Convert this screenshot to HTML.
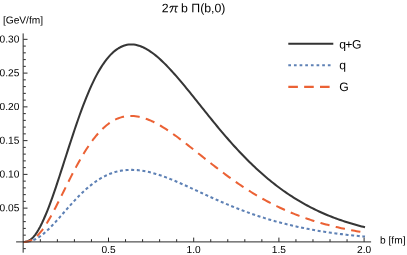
<!DOCTYPE html>
<html><head><meta charset="utf-8"><style>
html,body{margin:0;padding:0;background:#fff;overflow:hidden}
svg{display:block}
.t{font-family:"Liberation Sans",sans-serif;will-change:transform;filter:grayscale(1)}
</style></head><body>
<svg width="407" height="255" viewBox="0 0 407 255">
<rect width="407" height="255" fill="#fff"/>
<path d="M23.30,241.90 L25.00,241.84 L26.70,241.54 L28.40,240.93 L30.10,239.97 L31.80,238.64 L33.50,236.93 L35.20,234.85 L36.90,232.40 L38.60,229.59 L40.30,226.46 L42.01,223.01 L43.74,219.27 L45.48,215.27 L47.22,211.03 L48.97,206.57 L50.72,201.92 L52.46,197.11 L54.19,192.16 L55.91,187.09 L57.62,181.93 L59.33,176.70 L61.04,171.41 L62.76,166.10 L64.46,160.78 L66.17,155.46 L67.88,150.16 L69.58,144.91 L71.28,139.71 L72.97,134.58 L74.66,129.54 L76.33,124.58 L78.01,119.73 L79.68,114.99 L81.36,110.38 L83.03,105.89 L84.71,101.54 L86.38,97.34 L88.06,93.28 L89.73,89.38 L91.40,85.64 L93.07,82.06 L94.74,78.64 L96.42,75.38 L98.11,72.30 L99.80,69.38 L101.50,66.63 L103.20,64.05 L104.90,61.64 L106.60,59.40 L108.30,57.32 L110.00,55.41 L111.70,53.66 L113.40,52.07 L115.10,50.65 L116.80,49.37 L118.50,48.26 L120.20,47.29 L121.90,46.47 L123.60,45.79 L125.30,45.25 L127.00,44.85 L128.70,44.59 L130.40,44.45 L132.10,44.44 L133.80,44.56 L135.50,44.81 L137.20,45.17 L138.90,45.65 L140.60,46.25 L142.30,46.94 L144.00,47.73 L145.70,48.62 L147.40,49.60 L149.10,50.65 L150.80,51.79 L152.50,53.00 L154.20,54.29 L155.90,55.65 L157.60,57.08 L159.30,58.57 L161.00,60.12 L162.70,61.72 L164.40,63.38 L166.10,65.09 L167.80,66.84 L169.50,68.63 L171.20,70.46 L172.90,72.33 L174.60,74.23 L176.30,76.17 L178.00,78.13 L179.70,80.12 L181.40,82.13 L183.10,84.16 L184.80,86.22 L186.50,88.29 L188.20,90.37 L189.90,92.47 L191.60,94.58 L193.30,96.69 L195.00,98.81 L196.70,100.94 L198.40,103.07 L200.10,105.20 L201.80,107.33 L203.50,109.46 L205.20,111.59 L206.90,113.71 L208.60,115.82 L210.30,117.92 L212.00,120.01 L213.70,122.10 L215.40,124.17 L217.10,126.23 L218.80,128.28 L220.50,130.31 L222.20,132.33 L223.90,134.33 L225.60,136.31 L227.30,138.28 L229.00,140.22 L230.70,142.15 L232.40,144.06 L234.10,145.95 L235.80,147.81 L237.50,149.66 L239.20,151.48 L240.90,153.28 L242.60,155.06 L244.30,156.81 L246.00,158.54 L247.70,160.25 L249.40,161.93 L251.10,163.60 L252.80,165.23 L254.50,166.85 L256.20,168.44 L257.90,170.00 L259.60,171.55 L261.30,173.06 L263.00,174.56 L264.70,176.03 L266.40,177.48 L268.10,178.91 L269.80,180.31 L271.50,181.69 L273.20,183.05 L274.90,184.38 L276.60,185.69 L278.30,186.98 L280.00,188.24 L281.70,189.49 L283.40,190.71 L285.10,191.90 L286.80,193.08 L288.50,194.23 L290.20,195.36 L291.90,196.47 L293.60,197.56 L295.30,198.62 L297.00,199.67 L298.70,200.69 L300.40,201.70 L302.10,202.68 L303.80,203.65 L305.50,204.59 L307.20,205.51 L308.90,206.42 L310.60,207.31 L312.30,208.17 L314.00,209.02 L315.70,209.85 L317.40,210.67 L319.10,211.46 L320.80,212.24 L322.50,213.00 L324.20,213.74 L325.90,214.47 L327.60,215.18 L329.30,215.88 L331.00,216.56 L332.70,217.22 L334.40,217.87 L336.10,218.50 L337.80,219.12 L339.50,219.73 L341.20,220.32 L342.90,220.89 L344.60,221.46 L346.30,222.01 L348.00,222.55 L349.70,223.07 L351.40,223.58 L353.10,224.08 L354.80,224.57 L356.50,225.05 L358.20,225.51 L359.90,225.96 L361.60,226.40 L363.30,226.83 L365.00,227.25" stroke="#363636" stroke-width="2.05" fill="none" stroke-linejoin="round"/>
<path d="M23.30,241.90 L25.00,241.88 L26.70,241.76 L28.40,241.54 L30.10,241.18 L31.80,240.69 L33.50,240.06 L35.20,239.30 L36.90,238.40 L38.60,237.37 L40.30,236.22 L42.00,234.96 L43.70,233.60 L45.40,232.14 L47.10,230.59 L48.80,228.96 L50.50,227.27 L52.20,225.51 L53.90,223.70 L55.60,221.86 L57.30,219.97 L59.00,218.06 L60.70,216.14 L62.40,214.20 L64.10,212.26 L65.80,210.32 L67.50,208.39 L69.20,206.47 L70.90,204.58 L72.60,202.70 L74.30,200.86 L76.00,199.05 L77.70,197.28 L79.40,195.55 L81.10,193.87 L82.80,192.23 L84.50,190.65 L86.20,189.11 L87.90,187.63 L89.60,186.21 L91.30,184.84 L93.00,183.53 L94.70,182.29 L96.40,181.10 L98.10,179.97 L99.80,178.91 L101.50,177.91 L103.20,176.96 L104.90,176.09 L106.60,175.27 L108.30,174.51 L110.00,173.82 L111.70,173.18 L113.40,172.60 L115.10,172.08 L116.80,171.62 L118.50,171.22 L120.20,170.87 L121.90,170.57 L123.60,170.33 L125.30,170.13 L127.00,169.99 L128.70,169.90 L130.40,169.86 L132.10,169.86 L133.80,169.90 L135.50,169.99 L137.20,170.12 L138.90,170.29 L140.60,170.50 L142.30,170.75 L144.00,171.04 L145.70,171.35 L147.40,171.71 L149.10,172.09 L150.80,172.50 L152.50,172.94 L154.20,173.42 L155.90,173.91 L157.60,174.44 L159.30,174.99 L161.00,175.56 L162.70,176.15 L164.40,176.76 L166.10,177.39 L167.80,178.04 L169.50,178.70 L171.20,179.38 L172.90,180.08 L174.60,180.78 L176.30,181.50 L178.00,182.23 L179.70,182.97 L181.40,183.72 L183.10,184.47 L184.80,185.24 L186.50,186.00 L188.20,186.78 L189.90,187.56 L191.60,188.34 L193.30,189.12 L195.00,189.90 L196.70,190.69 L198.40,191.48 L200.10,192.26 L201.80,193.05 L203.50,193.83 L205.20,194.61 L206.90,195.39 L208.60,196.17 L210.30,196.94 L212.00,197.71 L213.70,198.47 L215.40,199.23 L217.10,199.98 L218.80,200.73 L220.50,201.47 L222.20,202.21 L223.90,202.94 L225.60,203.66 L227.30,204.38 L229.00,205.09 L230.70,205.79 L232.40,206.49 L234.10,207.17 L235.80,207.85 L237.50,208.53 L239.20,209.19 L240.90,209.85 L242.60,210.49 L244.30,211.13 L246.00,211.76 L247.70,212.39 L249.40,213.00 L251.10,213.60 L252.80,214.20 L254.50,214.79 L256.20,215.37 L257.90,215.93 L259.60,216.50 L261.30,217.05 L263.00,217.59 L264.70,218.12 L266.40,218.65 L268.10,219.17 L269.80,219.68 L271.50,220.17 L273.20,220.67 L274.90,221.15 L276.60,221.62 L278.30,222.09 L280.00,222.54 L281.70,222.99 L283.40,223.43 L285.10,223.86 L286.80,224.29 L288.50,224.70 L290.20,225.11 L291.90,225.51 L293.60,225.91 L295.30,226.29 L297.00,226.67 L298.70,227.04 L300.40,227.40 L302.10,227.76 L303.80,228.10 L305.50,228.45 L307.20,228.78 L308.90,229.11 L310.60,229.43 L312.30,229.74 L314.00,230.04 L315.70,230.34 L317.40,230.64 L319.10,230.92 L320.80,231.20 L322.50,231.48 L324.20,231.75 L325.90,232.01 L327.60,232.26 L329.30,232.51 L331.00,232.76 L332.70,233.00 L334.40,233.23 L336.10,233.46 L337.80,233.68 L339.50,233.90 L341.20,234.11 L342.90,234.32 L344.60,234.52 L346.30,234.72 L348.00,234.91 L349.70,235.10 L351.40,235.28 L353.10,235.46 L354.80,235.64 L356.50,235.81 L358.20,235.97 L359.90,236.14 L361.60,236.29 L363.30,236.45 L365.00,236.60" stroke="#5E81B5" stroke-width="2.05" fill="none" stroke-dasharray="3.0 2.633" stroke-dashoffset="0.95" stroke-linejoin="round"/>
<path d="M23.30,241.90 L25.00,241.87 L26.70,241.70 L28.40,241.35 L30.10,240.79 L31.80,239.99 L33.50,238.95 L35.20,237.67 L36.90,236.16 L38.60,234.41 L40.30,232.45 L42.00,230.28 L43.70,227.93 L45.40,225.39 L47.10,222.70 L48.80,219.86 L50.50,216.90 L52.20,213.82 L53.90,210.65 L55.60,207.40 L57.30,204.09 L59.00,200.72 L60.70,197.32 L62.40,193.90 L64.10,190.47 L65.80,187.04 L67.50,183.63 L69.20,180.24 L70.90,176.89 L72.60,173.58 L74.30,170.32 L76.00,167.13 L77.70,164.00 L79.40,160.94 L81.10,157.97 L82.80,155.08 L84.50,152.28 L86.20,149.57 L87.90,146.96 L89.60,144.45 L91.30,142.04 L93.00,139.74 L94.70,137.55 L96.40,135.46 L98.10,133.49 L99.80,131.62 L101.50,129.87 L103.20,128.22 L104.90,126.68 L106.60,125.26 L108.30,123.94 L110.00,122.72 L111.70,121.62 L113.40,120.62 L115.10,119.72 L116.80,118.92 L118.50,118.22 L120.20,117.62 L121.90,117.11 L123.60,116.70 L125.30,116.38 L127.00,116.14 L128.70,115.99 L130.40,115.93 L132.10,115.94 L133.80,116.03 L135.50,116.20 L137.20,116.44 L138.90,116.75 L140.60,117.13 L142.30,117.57 L144.00,118.08 L145.70,118.65 L147.40,119.27 L149.10,119.95 L150.80,120.67 L152.50,121.45 L154.20,122.28 L155.90,123.15 L157.60,124.06 L159.30,125.02 L161.00,126.01 L162.70,127.04 L164.40,128.10 L166.10,129.19 L167.80,130.31 L169.50,131.46 L171.20,132.63 L172.90,133.83 L174.60,135.05 L176.30,136.28 L178.00,137.54 L179.70,138.81 L181.40,140.10 L183.10,141.40 L184.80,142.71 L186.50,144.03 L188.20,145.36 L189.90,146.70 L191.60,148.04 L193.30,149.39 L195.00,150.74 L196.70,152.09 L198.40,153.44 L200.10,154.80 L201.80,156.15 L203.50,157.50 L205.20,158.85 L206.90,160.20 L208.60,161.54 L210.30,162.87 L212.00,164.20 L213.70,165.52 L215.40,166.84 L217.10,168.15 L218.80,169.45 L220.50,170.74 L222.20,172.03 L223.90,173.30 L225.60,174.56 L227.30,175.82 L229.00,177.06 L230.70,178.29 L232.40,179.50 L234.10,180.71 L235.80,181.90 L237.50,183.08 L239.20,184.25 L240.90,185.40 L242.60,186.54 L244.30,187.66 L246.00,188.77 L247.70,189.86 L249.40,190.94 L251.10,192.00 L252.80,193.05 L254.50,194.08 L256.20,195.10 L257.90,196.10 L259.60,197.09 L261.30,198.06 L263.00,199.01 L264.70,199.95 L266.40,200.88 L268.10,201.78 L269.80,202.68 L271.50,203.56 L273.20,204.42 L274.90,205.27 L276.60,206.11 L278.30,206.93 L280.00,207.73 L281.70,208.52 L283.40,209.30 L285.10,210.06 L286.80,210.81 L288.50,211.54 L290.20,212.26 L291.90,212.97 L293.60,213.66 L295.30,214.34 L297.00,215.00 L298.70,215.66 L300.40,216.29 L302.10,216.92 L303.80,217.53 L305.50,218.13 L307.20,218.72 L308.90,219.29 L310.60,219.85 L312.30,220.41 L314.00,220.94 L315.70,221.47 L317.40,221.99 L319.10,222.49 L320.80,222.99 L322.50,223.47 L324.20,223.94 L325.90,224.40 L327.60,224.86 L329.30,225.30 L331.00,225.73 L332.70,226.15 L334.40,226.57 L336.10,226.97 L337.80,227.36 L339.50,227.75 L341.20,228.13 L342.90,228.49 L344.60,228.85 L346.30,229.20 L348.00,229.55 L349.70,229.88 L351.40,230.21 L353.10,230.52 L354.80,230.84 L356.50,231.14 L358.20,231.44 L359.90,231.73 L361.60,232.01 L363.30,232.28 L365.00,232.55" stroke="#EB6235" stroke-width="2.05" fill="none" stroke-dasharray="9.4 6.36" stroke-dashoffset="0.4" stroke-linejoin="round"/>
<g stroke="#2a2a2a" stroke-width="1" fill="none" shape-rendering="auto">
<path d="M16.1,241.90 H371.1"/>
<path d="M23.15,33.4 V252.7"/>
<path d="M40.34,241.90 v-2.6999999999999997"/>
<path d="M57.38,241.90 v-2.6999999999999997"/>
<path d="M74.42,241.90 v-2.6999999999999997"/>
<path d="M91.46,241.90 v-2.6999999999999997"/>
<path d="M108.50,241.90 v-4.3"/>
<path d="M125.54,241.90 v-2.6999999999999997"/>
<path d="M142.58,241.90 v-2.6999999999999997"/>
<path d="M159.62,241.90 v-2.6999999999999997"/>
<path d="M176.66,241.90 v-2.6999999999999997"/>
<path d="M193.70,241.90 v-4.3"/>
<path d="M210.74,241.90 v-2.6999999999999997"/>
<path d="M227.78,241.90 v-2.6999999999999997"/>
<path d="M244.82,241.90 v-2.6999999999999997"/>
<path d="M261.86,241.90 v-2.6999999999999997"/>
<path d="M278.90,241.90 v-4.3"/>
<path d="M295.94,241.90 v-2.6999999999999997"/>
<path d="M312.98,241.90 v-2.6999999999999997"/>
<path d="M330.02,241.90 v-2.6999999999999997"/>
<path d="M347.06,241.90 v-2.6999999999999997"/>
<path d="M364.10,241.90 v-4.3"/>
<path d="M23.30,248.65 h2.5"/>
<path d="M23.30,235.15 h2.5"/>
<path d="M23.30,228.40 h2.5"/>
<path d="M23.30,221.64 h2.5"/>
<path d="M23.30,214.89 h2.5"/>
<path d="M23.30,208.14 h4.2"/>
<path d="M23.30,201.39 h2.5"/>
<path d="M23.30,194.64 h2.5"/>
<path d="M23.30,187.88 h2.5"/>
<path d="M23.30,181.13 h2.5"/>
<path d="M23.30,174.38 h4.2"/>
<path d="M23.30,167.63 h2.5"/>
<path d="M23.30,160.88 h2.5"/>
<path d="M23.30,154.12 h2.5"/>
<path d="M23.30,147.37 h2.5"/>
<path d="M23.30,140.62 h4.2"/>
<path d="M23.30,133.87 h2.5"/>
<path d="M23.30,127.12 h2.5"/>
<path d="M23.30,120.36 h2.5"/>
<path d="M23.30,113.61 h2.5"/>
<path d="M23.30,106.86 h4.2"/>
<path d="M23.30,100.11 h2.5"/>
<path d="M23.30,93.36 h2.5"/>
<path d="M23.30,86.60 h2.5"/>
<path d="M23.30,79.85 h2.5"/>
<path d="M23.30,73.10 h4.2"/>
<path d="M23.30,66.35 h2.5"/>
<path d="M23.30,59.60 h2.5"/>
<path d="M23.30,52.84 h2.5"/>
<path d="M23.30,46.09 h2.5"/>
<path d="M23.30,39.34 h4.2"/>
</g>
<path d="M288.3,43.85 H333.3" stroke="#333" stroke-width="2.0"/>
<path d="M288.3,65.25 H333.3" stroke="#5E81B5" stroke-width="2.15" stroke-dasharray="2.7 2.95"/>
<path d="M288.3,86.85 H333.3" stroke="#EB6235" stroke-width="2.1" stroke-dasharray="9.6 6.25"/>
<g class="t" fill="#000">
<g font-size="12.2px">
<text transform="translate(339.20,48.40) rotate(0.03)">q<tspan dx="-0.6">+</tspan><tspan dx="-0.55">G</tspan></text>
<text transform="translate(339.20,69.30) rotate(0.03)">q</text>
<text transform="translate(339.30,91.00) rotate(0.03)">G</text>
</g>
<g font-size="10.2px">
<text transform="translate(19.40,211.29) rotate(0.03)" text-anchor="end">0.05</text>
<text transform="translate(19.40,177.53) rotate(0.03)" text-anchor="end">0.10</text>
<text transform="translate(19.40,143.77) rotate(0.03)" text-anchor="end">0.15</text>
<text transform="translate(19.40,110.01) rotate(0.03)" text-anchor="end">0.20</text>
<text transform="translate(19.40,76.25) rotate(0.03)" text-anchor="end">0.25</text>
<text transform="translate(19.40,42.49) rotate(0.03)" text-anchor="end">0.30</text>
<text transform="translate(108.50,253.05) rotate(0.03)" text-anchor="middle">0.5</text>
<text transform="translate(193.70,253.05) rotate(0.03)" text-anchor="middle">1.0</text>
<text transform="translate(278.90,253.05) rotate(0.03)" text-anchor="middle">1.5</text>
<text transform="translate(364.10,253.05) rotate(0.03)" text-anchor="middle">2.0</text>
<text transform="translate(2.90,23.50) rotate(0.03)">[GeV/fm]</text>
<text transform="translate(380.00,243.60) rotate(0.03)">b [fm]</text>
</g>
<g font-size="12.3px">
<text transform="translate(161.70,12.30) rotate(0.03)">2</text>
<path d="M169.9,7.7 Q170.5,6.55 171.9,6.55 H177.7 M173.1,6.6 L171.7,10.4 Q171.2,11.8 170.3,12.3 M176.1,6.6 L175.2,10.9 Q174.9,12.5 176.7,12.2" fill="none" stroke="#111" stroke-width="1.02" stroke-linecap="round" transform="translate(0,-0.2)"/>
<text transform="translate(181.00,12.30) rotate(0.03)">b Π(b,0)</text>
</g>
</g>
</svg>
</body></html>
